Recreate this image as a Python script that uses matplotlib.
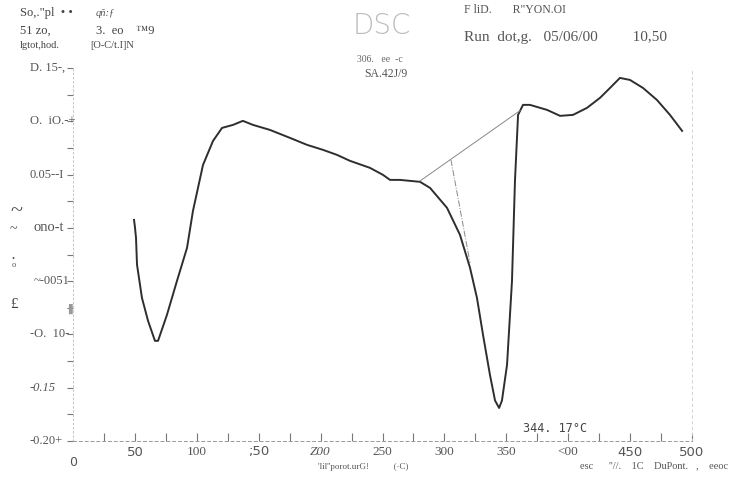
import numpy as np
import matplotlib.pyplot as plt
from matplotlib.transforms import blended_transform_factory

# DSC trace: temperature (C) vs heat flow (W/g)
temp = [49.3, 50.0, 50.9, 51.7, 55.7, 60.6, 66.2, 68.7, 75.9, 84.0, 92.1,
        96.9, 105.0, 113.1, 120.4, 129.2, 137.2, 145.4, 159.1, 175.3, 189.0,
        201.9, 213.2, 223.7, 239.9, 250.4, 256.1, 264.1, 280.3, 288.4, 302.1,
        312.6, 320.7, 326.3, 331.2, 336.8, 340.9, 344.2, 346.5, 350.6, 354.6,
        357.0, 359.5, 363.5, 369.1, 382.9, 393.4, 403.9, 415.2, 425.7, 433.8,
        441.8, 449.9, 460.4, 471.7, 482.2, 492.0]
heat_flow = [0.0075, 0.0010, -0.0094, -0.0345, -0.0657, -0.0872, -0.1060,
             -0.1060, -0.0816, -0.0497, -0.0188, 0.0159, 0.0590, 0.0816,
             0.0938, 0.0966, 0.1004, 0.0966, 0.0919, 0.0844, 0.0779, 0.0732,
             0.0685, 0.0629, 0.0563, 0.0497, 0.0450, 0.0450, 0.0432, 0.0375,
             0.0188, -0.0066, -0.0375, -0.0657, -0.1004, -0.1380, -0.1620,
             -0.1690, -0.1620, -0.1285, -0.0497, 0.0441, 0.1060, 0.1154,
             0.1154, 0.1107, 0.1051, 0.1060, 0.1126, 0.1220, 0.1313, 0.1407,
             0.1388, 0.1313, 0.1200, 0.1060, 0.0910]

# integration baseline and onset tangent
base_t = [280.3, 361.1]
base_y = [0.044, 0.110]
tang_t = [305.3, 320.7]
tang_y = [0.0638, -0.0328]

y_ticks = [0.15, 0.10, 0.05, 0.00, -0.05, -0.10, -0.15, -0.20]
y_labels = ['D. 15-,', 'O.  iO.-+', '0.05--I', 'ono-t', '~-0051', '-O.  10-',
            '-0.15', '-0.20+']
x_ticks = [50, 100, 150, 200, 250, 300, 350, 400, 450, 500]
x_labels = ['50', '100', ';50', 'Z00', '250', '300', '350', '<00', '450', '500']

serif = 'Liberation Serif'

fig = plt.figure(figsize=(7.54, 4.79), dpi=100)
ax = fig.add_axes([73 / 754, 1 - 441 / 479, 619 / 754, 373 / 479])
ax.set_xlim(0, 500)
ax.set_ylim(-0.20, 0.15)

ax.plot(temp, heat_flow, color='#2e2e2e', lw=1.4)
ax.plot(base_t, base_y, color='#888888', lw=0.7)
ax.plot(tang_t, tang_y, color='#888888', lw=0.7, ls='-.')

ax.spines['top'].set_visible(False)
ax.spines['right'].set_color('#cccccc')
ax.spines['right'].set_linestyle((0, (3, 4)))
ax.spines['right'].set_linewidth(0.6)
ax.spines['left'].set_color('#bbbbbb')
ax.spines['left'].set_linestyle((0, (2, 3)))
ax.spines['left'].set_linewidth(0.6)
ax.spines['bottom'].set_color('#999999')
ax.spines['bottom'].set_linestyle((0, (3, 3)))
ax.spines['bottom'].set_linewidth(0.7)

ax.set_xticks(np.arange(25, 501, 25))
ax.set_yticks(np.arange(-0.20, 0.151, 0.025))
ax.tick_params(axis='x', direction='in', length=6, color='#777777', labelbottom=False)
ax.tick_params(axis='y', direction='out', length=4, color='#777777', labelleft=False)

ytr = blended_transform_factory(fig.transFigure, ax.transData)
for v, lab in zip(y_ticks, y_labels):
    ax.text(30 / 754 if v not in (0.0, -0.05) else 34 / 754, v, lab,
            transform=ytr, ha='left', va='center', fontsize=10.5 if v == 0.0 else 9,
            family=serif, color='#555555', style='italic' if v == -0.15 else 'normal')

xtr = blended_transform_factory(ax.transData, fig.transFigure)
for v, lab in zip(x_ticks, x_labels):
    ax.text(v, 1 - 452 / 479, lab, transform=xtr, ha='center', va='center',
            fontsize=9.5, color='#555555',
            family='DejaVu Sans' if v in (50, 150, 450, 500) else serif,
            style='italic' if v == 200 else 'normal')
fig.text(73 / 754, 1 - 463 / 479, '0', ha='center', va='center', fontsize=9,
         color='#555555')

# left axis-title fragments
fig.text(10 / 754, 1 - 212 / 479, '~', fontsize=16, family=serif, color='#444444', va='center')
fig.text(10 / 754, 1 - 230 / 479, '~', fontsize=10, family=serif, color='#555555', va='center')
fig.text(12 / 754, 1 - 262 / 479, '•\no', fontsize=6, family=serif, color='#555555',
         va='center', linespacing=0.8)
fig.text(10 / 754, 1 - 305 / 479, '£', fontsize=11, family=serif, color='#444444', va='center')
fig.text(72 / 754, 1 - 309 / 479, '▌', fontsize=7, color='#999999', va='center', ha='center')

# header block
fig.text(20 / 754, 1 - 13 / 479, 'So,."pl  • •', fontsize=9, family=serif, color='#444444', va='center')
fig.text(96 / 754, 1 - 13 / 479, 'qñ:ƒ', fontsize=7.5, family=serif, color='#555555',
         style='italic', va='center')
fig.text(20 / 754, 1 - 31 / 479, '51 zo,', fontsize=9, family=serif, color='#444444', va='center')
fig.text(96 / 754, 1 - 31 / 479, '3.  eo    ™9', fontsize=9, family=serif, color='#444444', va='center')
fig.text(20 / 754, 1 - 46 / 479, 'lgtot,hod.', fontsize=7.5, family=serif, color='#444444', va='center')
fig.text(90 / 754, 1 - 46 / 479, '[O-C/t.I]N', fontsize=7.5, family=serif, color='#444444', va='center')

fig.text(353 / 754, 1 - 26 / 479, 'DSC', fontsize=20, family='DejaVu Sans', weight='light',
         color='#bbbbbb', va='center')
fig.text(357 / 754, 1 - 59 / 479, '306.   ee  -c', fontsize=7, family=serif, color='#666666', va='center')
fig.text(364 / 754, 1 - 74 / 479, 'SA.42J/9', fontsize=8.5, family=serif, color='#555555', va='center')

fig.text(464 / 754, 1 - 10 / 479, 'F liD.       R"YON.OI', fontsize=8.5, family=serif,
         color='#555555', va='center')
fig.text(464 / 754, 1 - 37 / 479, 'Run  dot,g.   05/06/00         10,50', fontsize=11,
         family=serif, color='#555555', va='center')

# footer
fig.text(318 / 754, 1 - 467 / 479, "'lil''porot.urG!           (·C)", fontsize=6.5,
         family=serif, color='#555555', va='center')
fig.text(580 / 754, 1 - 466 / 479, "esc      ''//.    1C    DuPont.   ,    eeoc", fontsize=7.5,
         family=serif, color='#555555', va='center')
fig.text(523 / 754, 1 - 428 / 479, '344. 17°C', fontsize=8.5,
         family='DejaVu Sans Mono', color='#444444', ha='left', va='center')

fig.savefig('out.png', dpi=100, facecolor='white')
